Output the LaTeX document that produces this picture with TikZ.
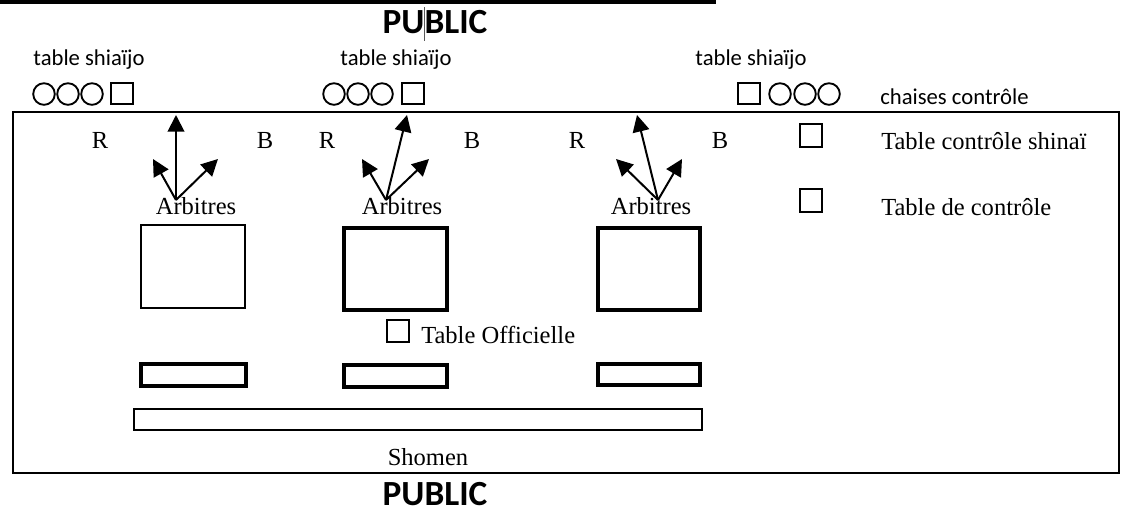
\documentclass[tikz,border=0pt]{standalone}
\usepackage{fontspec}
\setmainfont{Liberation Serif}
\newfontfamily\calib{Carlito}
\usetikzlibrary{arrows.meta}

\begin{document}
\begin{tikzpicture}[x=0.75pt,y=-0.75pt,
  sanslabel/.style={inner sep=0pt,font=\calib\fontsize{17}{19}\selectfont},
  publiclabel/.style={inner sep=0pt,font=\calib\bfseries\fontsize{26.5}{28}\selectfont},
  seriflabel/.style={inner sep=0pt,font=\fontsize{18.4}{20}\selectfont},
  chair/.style={draw,line width=1.4pt},
  smallsq/.style={draw,line width=2.2pt},
  matbox/.style={draw,line width=3pt},
  ref/.style={-{Triangle[length=12.5pt,width=12.5pt]},line width=1.5pt}]
\useasboundingbox (0,0) rectangle (1127,512);

% rule across the top of the page
\fill (0,0) rectangle (716,3.5);

% public side (top)
\node[publiclabel] (pubtop) at (435,22) {PUBLIC};
\draw[gray!70!black,line width=0.6pt] (424,7) -- (424,41);

% shiaijo tables with their chairs
\node[sanslabel] (ts1) at (89,60) {table shiaïjo};
\node[sanslabel] (ts2) at (396,60) {table shiaïjo};
\node[sanslabel] (ts3) at (751,60) {table shiaïjo};

\foreach \cx in {44,68,92} \draw[chair] (\cx,94) circle (10.8);
\draw[smallsq] (111,83) rectangle (133,104);
\foreach \cx in {334,358,382} \draw[chair] (\cx,94) circle (10.8);
\draw[smallsq] (402,83) rectangle (424,104);
\draw[smallsq] (738,83) rectangle (760,104);
\foreach \cx in {780,805,829} \draw[chair] (\cx,94) circle (10.8);

\node[sanslabel,anchor=west] (chaises) at (880,97) {chaises contrôle};

% competition area
\draw[line width=1pt] (13,112) rectangle (1119,473);

% referee positions
\foreach \rx/\bx/\n in {100/265/1,327/472/2,577/720/3}{
  \node[seriflabel] (r\n) at (\rx,140) {R};
  \node[seriflabel] (b\n) at (\bx,140) {B};
}

\node[seriflabel] (arb1) at (196,206) {Arbitres};
\node[seriflabel] (arb2) at (402,206) {Arbitres};
\node[seriflabel] (arb3) at (651,206) {Arbitres};

\coordinate (o1) at (176,200);
\coordinate (o2) at (386,200);
\coordinate (o3) at (658,200);
\coordinate (u1) at (176,115);  \coordinate (l1) at (153,159); \coordinate (q1) at (218,159);
\coordinate (u2) at (407,115);  \coordinate (l2) at (362,159); \coordinate (q2) at (429,159);
\coordinate (u3) at (637,115);  \coordinate (l3) at (616,159); \coordinate (q3) at (682,159);
\foreach \n in {1,2,3}{
  \draw[ref] (o\n) -- (u\n);
  \draw[ref] (o\n) -- (l\n);
  \draw[ref] (o\n) -- (q\n);
}

% control tables on the right
\draw[smallsq] (800,124) rectangle (822,147);
\node[seriflabel,anchor=west] (tcs) at (881,141) {Table contrôle shinaï};
\draw[smallsq] (800,189) rectangle (822,212);
\node[seriflabel,anchor=west] (tdc) at (881,207) {Table de contrôle};

% shiaijo areas
\draw[line width=1.5pt] (141,225) rectangle (245,308);
\draw[matbox] (344,228) rectangle (447,310);
\draw[matbox] (598,228) rectangle (700,310);

% official table
\draw[smallsq] (387,320) rectangle (409,342);
\node[seriflabel,anchor=west] (toff) at (421,335) {Table Officielle};

% scorer benches
\draw[matbox] (141,364) rectangle (246,386);
\draw[matbox] (344,365) rectangle (447,387);
\draw[matbox] (598,364) rectangle (700,385);
\draw[line width=2pt] (134,409) rectangle (702,430);

\node[seriflabel] (shomen) at (428,457) {Shomen};

% public side (bottom)
\node[publiclabel] (pubbot) at (435,494) {PUBLIC};
\end{tikzpicture}
\end{document}
